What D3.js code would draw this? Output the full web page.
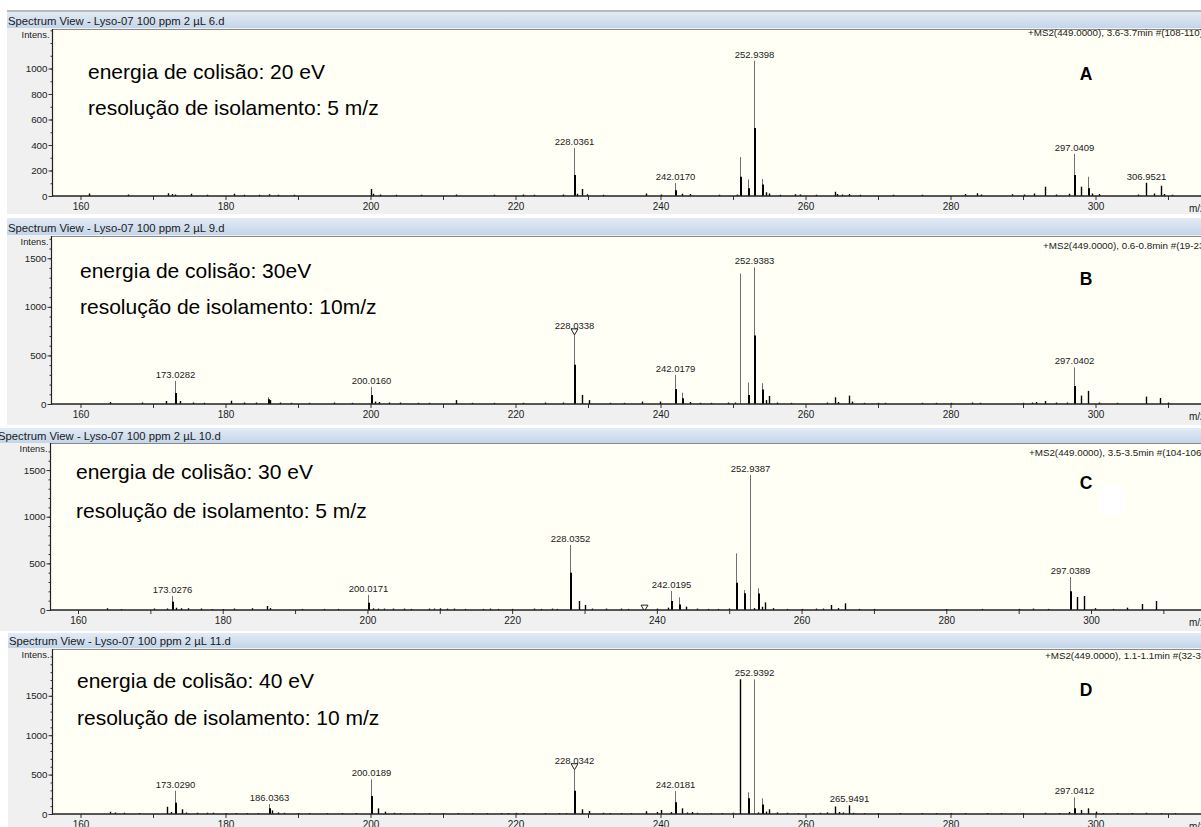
<!DOCTYPE html>
<html><head><meta charset="utf-8">
<script src="https://cdn.jsdelivr.net/npm/d3@7"></script>
<style>
html,body{margin:0;padding:0;background:#fff;overflow:hidden;}
svg{display:block;}
</style></head><body>
<svg id="chart" width="1201" height="827"></svg>
<script>
// ---- spectrum data ----
const mzMinorTicks = [150,160,170,180,190,200,210,220,230,240,250,260,270,280,290,300,310,320];
const mzLabelTicks = [160,180,200,220,240,260,280,300];

const fileNames = ["Lyso-07 100 ppm 2 µL 6.d","Lyso-07 100 ppm 2 µL 9.d","Lyso-07 100 ppm 2 µL 10.d","Lyso-07 100 ppm 2 µL 11.d"];
const scanInfo = ["+MS2(449.0000), 3.6-3.7min #(108-110)","+MS2(449.0000), 0.6-0.8min #(19-23)","+MS2(449.0000), 3.5-3.5min #(104-106)","+MS2(449.0000), 1.1-1.1min #(32-34)"];
const energyText = ["energia de colisão: 20 eV","energia de colisão: 30eV","energia de colisão: 30 eV","energia de colisão: 40 eV"];
const isolationText = ["resolução de isolamento: 5 m/z","resolução de isolamento: 10m/z","resolução de isolamento: 5 m/z","resolução de isolamento: 10 m/z"];
const panelLetters = ["A","B","C","D"];

const intensityTicksA = [0,200,400,600,800,1000];
const intensityTicksB = [0,500,1000,1500];
const intensityTicksC = [0,500,1000,1500];
const intensityTicksD = [0,500,1000,1500];
const intensityMax = [1310,1729,1790,2094];

// [m/z, intensity, profile apex (optional)]
const peaksA = [[161.2,20],[166.5,12],[172.0,22],[172.6,15],[173.1,12],[175.3,18],[177.5,10],[181.2,18],[182.5,10],[184.6,10],[186.0,14],[187.3,10],[189.5,10],[200.02,55],[200.4,18],[201.3,12],[203.5,10],[207,10],[211.8,12],[217,10],[221.0,12],[222.5,10],[226.5,12],[228.0361,376,165],[228.5,18],[229.2,55],[229.8,14],[232,10],[238.0,20],[240.0,12],[242.0170,102,45],[243.0,18],[244.0,16],[248,10],[250.5,12],[251.0,306,151],[252.0,130,60],[252.9398,1061,533],[254.0,133,90],[254.5,30],[255.0,20],[256.5,10],[258.5,14],[259.2,12],[261.5,10],[264.0,34],[264.4,15],[265.0,12],[266.0,16],[267.5,10],[272,10],[276,10],[282.0,15],[283.6,22],[284.2,12],[288.5,14],[290.2,12],[291.5,20],[293.0,73],[294.5,12],[296.3,18],[297.0409,329,165],[298.0,73],[299.0,151,60],[299.5,20],[300.5,15],[305.8,12],[306.9521,104],[308.0,20],[309.0,81],[309.5,15],[310.5,10]];
const peaksB = [[164,20],[168.5,15],[171.8,30],[173.0282,238,114],[173.7,30],[175.5,15],[177,12],[180.7,34],[182.5,15],[184.2,15],[185.8,69,50],[186.2,40],[187.5,15],[189,12],[191.5,12],[195,15],[197.5,12],[200.0160,176,93],[200.6,25],[201.2,20],[202.5,15],[204,15],[206.5,12],[208,12],[211.8,40],[214,12],[217,12],[221,12],[224,15],[226.5,15],[228.0338,742,403],[229.2,93],[230.1,40],[233,12],[235,12],[237.5,25],[239.9,25],[242.0179,300,155],[243.0,117,60],[244.0,20],[245.5,12],[247,12],[249.3,15],[250.3,15],[251.0,1342,0],[252.0,221,93],[252.9383,1405,704],[254.0,214,150],[254.5,40],[255.0,83],[256.0,15],[258,12],[263,15],[264.0,69],[264.5,20],[266.0,86],[266.4,25],[268,12],[270,12],[271,12],[276,12],[278,12],[280,12],[283,15],[284,12],[290,12],[291.2,15],[291.8,20],[293.0,30],[294.5,15],[296,15],[297.0402,376,186],[298.0,86],[299.0,135],[300.5,15],[303,12],[306.9,76],[308.9,62],[310,15]];
const peaksC = [[164,20],[166,12],[170.5,15],[172.3,15],[173.0276,150,89],[173.6,25],[174.3,20],[175.2,20],[177,15],[178.5,12],[180,12],[181.5,15],[184,20],[186.1,43],[186.5,20],[191,12],[194,12],[196,12],[200.0171,161,78],[200.8,18],[201.5,15],[202.3,15],[203.5,15],[205,15],[206,12],[208.5,15],[209.2,15],[210,18],[211,15],[212,15],[213.5,12],[216,12],[217,15],[218,12],[220,12],[223,15],[224,12],[225.5,15],[226.2,12],[228.0352,697,400],[229.2,96],[230.1,54],[231,15],[233,15],[235,15],[236,12],[238.2,20],[240.0,15],[241.5,25],[242.0195,204,96],[243.0,136,60],[244.0,36],[245.5,15],[247,12],[248.5,12],[250,15],[251.0,607,293],[252.0,214,180],[252.9387,1447,0],[253.4,20],[254.0,232,178],[254.6,35],[255.0,82],[256.0,20],[258,12],[260,12],[262,15],[263,15],[264.0,54],[265,20],[266.0,72],[268,12],[270,12],[280,10],[285,12],[290,12],[292,15],[294,12],[297.0389,354,200],[298.0,139],[299.0,150],[300.5,20],[303,12],[305,25],[307.0,64],[309.0,96]];
const peaksD = [[164.1,30],[164.7,20],[166,15],[168,12],[171.9,93],[172.5,25],[173.0290,296,144],[174.0,59],[174.6,20],[176,15],[177.5,15],[178.3,15],[180,12],[181.5,12],[183,12],[184.5,12],[186.0363,127,72],[186.4,45],[187.2,20],[188,15],[190,12],[191.5,12],[194,12],[196,12],[198,12],[200.0189,440,228],[201.0,72],[202.0,30],[203.2,15],[204,12],[206,12],[208,12],[210,12],[212,12],[214,12],[216,12],[218,12],[219,12],[220,15],[221,12],[224,12],[226,12],[227,12],[228.0342,600,296],[229.2,59],[230.2,38],[232,15],[233,12],[234.5,12],[236,12],[238.0,35],[239.5,25],[240.0,51],[241.4,25],[242.0181,292,148],[243.0,72],[243.6,20],[244.3,25],[245,15],[247,12],[248.5,12],[250,15],[251.0,1709],[252.0,275,200],[252.9392,1709,0],[253.5,20],[254.0,199,120],[254.6,30],[255.0,59],[256,20],[257.5,15],[259,12],[261,12],[262,15],[263,20],[264.0,95],[264.6,25],[265.2,20],[265.9491,110],[266.5,15],[268,12],[270,12],[273,12],[276,12],[278,12],[280,12],[282,12],[285,12],[287,12],[290,12],[293.0,15],[295,12],[296.3,25],[297.0412,211,72],[298.0,51],[299.0,72],[300.0,30],[301,12],[303,12],[305,12],[307,15],[309,12],[311,12]];

// labelled peak m/z values (label text is the m/z itself)
const labelsA = [228.0361,242.0170,252.9398,297.0409,306.9521];
const labelsB = [173.0282,200.0160,228.0338,242.0179,252.9383,297.0402];
const labelsC = [173.0276,200.0171,228.0352,242.0195,252.9387,297.0389];
const labelsD = [173.0290,186.0363,200.0189,228.0342,242.0181,252.9392,265.9491,297.0412];

// triangle markers (m/z of the marked peak)
const markersA = [];
const markersB = [228.0338];
const markersC = [238.2];
const markersD = [228.0342];

// ---- panel geometry ----
const W = 1201;
const layouts = [
  {left:7,  barTop:12,  barH:16, plotTop:29,  base:196, bottom:214, plotLeft:52.5, x160:80.5, x300:1095.5, textX:88, line1:79,  line2:115, letterY:80,  infoX:1028, infoY:36},
  {left:7,  barTop:218, barH:17, plotTop:236, base:404, bottom:425, plotLeft:51.5, x160:80.5, x300:1095.5, textX:80, line1:278, line2:314, letterY:285, infoX:1043, infoY:249},
  {left:-3, barTop:428, barH:15, plotTop:443, base:610, bottom:631, plotLeft:50.5, x160:78,   x300:1091,   textX:76, line1:479, line2:518, letterY:489, infoX:1029, infoY:456},
  {left:8,  barTop:633, barH:15, plotTop:649, base:814, bottom:850, plotLeft:52.5, x160:80.5, x300:1095.5, textX:77, line1:688, line2:725, letterY:696, infoX:1045, infoY:659}
];

const panels = [
  {peaks:peaksA, labels:labelsA, markers:markersA, yTicks:intensityTicksA},
  {peaks:peaksB, labels:labelsB, markers:markersB, yTicks:intensityTicksB},
  {peaks:peaksC, labels:labelsC, markers:markersC, yTicks:intensityTicksC},
  {peaks:peaksD, labels:labelsD, markers:markersD, yTicks:intensityTicksD}
];

const svg = d3.select("#chart");
const defs = svg.append("defs");
const grad = defs.append("linearGradient").attr("id","barGrad").attr("x1",0).attr("x2",0).attr("y1",0).attr("y2",1);
grad.append("stop").attr("offset","0%").attr("stop-color","#e3ebf5");
grad.append("stop").attr("offset","100%").attr("stop-color","#c4d5e9");

const SMALL = "'Liberation Sans', Arial, sans-serif";
const fmt = d3.format(".4f");

panels.forEach((p, i) => {
  const L = layouts[i];
  const g = svg.append("g");

  const x = d3.scaleLinear().domain([160, 300]).range([L.x160, L.x300]);
  const y = d3.scaleLinear().domain([0, intensityMax[i]]).range([L.base, L.plotTop]);

  // window frame: gray body and title bar
  g.append("rect").attr("x", L.left).attr("y", L.barTop).attr("width", W - L.left).attr("height", L.bottom - L.barTop).attr("fill", "#f0f0f0");
  if (i === 0) g.append("rect").attr("x", L.left).attr("y", L.barTop - 2).attr("width", W - L.left).attr("height", 2).attr("fill", "#b9b9b9");
  g.append("rect").attr("x", L.left).attr("y", L.barTop).attr("width", W - L.left).attr("height", L.barH).attr("fill", "url(#barGrad)");
  g.append("text").attr("x", L.left + 1).attr("y", L.barTop + L.barH - 3.5)
    .attr("font-family", SMALL).attr("font-size", 11.3).attr("fill", "#1a1a1a")
    .text("Spectrum View - " + fileNames[i]);

  // plot area
  g.append("rect").attr("x", L.plotLeft).attr("y", L.plotTop).attr("width", W - L.plotLeft).attr("height", L.base - L.plotTop).attr("fill", "#fffff5");
  g.append("line").attr("x1", L.plotLeft).attr("x2", W).attr("y1", L.plotTop + 0.5).attr("y2", L.plotTop + 0.5).attr("stroke", "#8a8a8a").attr("stroke-width", 1);

  const clipId = "clip" + i;
  defs.append("clipPath").attr("id", clipId).append("rect")
    .attr("x", L.plotLeft).attr("y", L.plotTop).attr("width", W - L.plotLeft).attr("height", L.base - L.plotTop);
  const plot = g.append("g").attr("clip-path", "url(#" + clipId + ")");

  if (i === 2) plot.append("rect").attr("x", 1100).attr("y", 486).attr("width", 24).attr("height", 28).attr("fill", "#ffffff");

  // centroid sticks (thin gray) for peaks that carry a profile apex
  plot.selectAll("line.cent").data(p.peaks.filter(d => d.length > 2)).join("line")
    .attr("class", "cent")
    .attr("x1", d => Math.round(x(d[0])) + 0.5).attr("x2", d => Math.round(x(d[0])) + 0.5)
    .attr("y1", L.base).attr("y2", d => y(d[1]))
    .attr("stroke", "#707070").attr("stroke-width", 1);
  // profile bodies (black)
  plot.selectAll("line.prof").data(p.peaks.filter(d => d.length > 2 && d[2] > 0)).join("line")
    .attr("class", "prof")
    .attr("x1", d => Math.round(x(d[0])) + 1).attr("x2", d => Math.round(x(d[0])) + 1)
    .attr("y1", L.base).attr("y2", d => y(d[2]))
    .attr("stroke", "#000").attr("stroke-width", 2);
  // plain sticks
  plot.selectAll("line.stick").data(p.peaks.filter(d => d.length === 2)).join("line")
    .attr("class", "stick")
    .attr("x1", d => Math.round(x(d[0])) + 0.5).attr("x2", d => Math.round(x(d[0])) + 0.5)
    .attr("y1", L.base).attr("y2", d => y(d[1]))
    .attr("stroke", "#000").attr("stroke-width", 1.4);

  // peak labels
  const peakTop = mz => { const pk = p.peaks.find(d => Math.abs(d[0] - mz) < 1e-6); return pk ? pk[1] : 0; };
  plot.selectAll("text.lab").data(p.labels).join("text")
    .attr("class", "lab")
    .attr("x", d => Math.round(x(d)) + 0.5).attr("y", d => y(peakTop(d)) - 3)
    .attr("text-anchor", "middle").attr("font-family", SMALL).attr("font-size", 9.5).attr("fill", "#222")
    .text(d => fmt(d));

  // triangle markers
  plot.selectAll("path.mark").data(p.markers).join("path")
    .attr("class", "mark")
    .attr("d", d => {
      const cx = Math.round(x(d)) + 0.5, ty = y(peakTop(d)) - 3;
      return `M${cx - 3.5},${ty}L${cx + 3.5},${ty}L${cx},${ty + 6}Z`;
    })
    .attr("fill", "#fffff5").attr("stroke", "#222").attr("stroke-width", 1);

  // axes
  const xAxis = d3.axisBottom(x).tickValues(mzMinorTicks).tickSize(4).tickPadding(3)
    .tickFormat(d => mzLabelTicks.includes(d) ? d : "");
  const xg = g.append("g").attr("transform", `translate(0,${L.base})`).call(xAxis);
  xg.select(".domain").remove();
  xg.selectAll(".tick").filter(d => x(d) < L.plotLeft).remove();
  xg.selectAll(".tick line").attr("stroke", "#333");
  xg.selectAll(".tick text").attr("font-family", SMALL).attr("font-size", 10).attr("fill", "#222");

  const minorY = d3.range(0, intensityMax[i], 100);
  const yMinor = d3.axisLeft(y).tickValues(minorY).tickSize(2).tickFormat("");
  const ymg = g.append("g").attr("transform", `translate(${L.plotLeft},0)`).call(yMinor);
  ymg.select(".domain").remove();
  ymg.selectAll(".tick line").attr("stroke", "#333");
  const yAxis = d3.axisLeft(y).tickValues(p.yTicks).tickSize(4).tickPadding(1).tickFormat(d3.format("d"));
  const yg = g.append("g").attr("transform", `translate(${L.plotLeft},0)`).call(yAxis);
  yg.select(".domain").remove();
  yg.selectAll(".tick line").attr("stroke", "#333");
  yg.selectAll(".tick text").attr("font-family", SMALL).attr("font-size", 9.8).attr("fill", "#222");

  g.append("line").attr("x1", L.plotLeft).attr("x2", L.plotLeft).attr("y1", L.plotTop).attr("y2", L.base + 0.75).attr("stroke", "#222").attr("stroke-width", 1.2);
  g.append("line").attr("x1", L.plotLeft).attr("x2", W).attr("y1", L.base).attr("y2", L.base).attr("stroke", "#222").attr("stroke-width", 1.5);

  g.append("text").attr("x", L.plotLeft - 3).attr("y", L.plotTop + 8.5).attr("text-anchor", "end")
    .attr("font-family", SMALL).attr("font-size", 9.3).attr("fill", "#222").text("Intens.");
  g.append("text").attr("x", 1189).attr("y", L.base + 16).attr("font-family", SMALL).attr("font-size", 10).attr("fill", "#222").text("m/z");

  // scan header and annotations
  g.append("text").attr("x", L.infoX).attr("y", L.infoY).attr("font-family", SMALL).attr("font-size", 9.8).attr("fill", "#222").text(scanInfo[i]);
  g.append("text").attr("x", L.textX).attr("y", L.line1).attr("font-family", "'Liberation Sans', Arial, sans-serif").attr("font-size", 21).attr("fill", "#000").text(energyText[i]);
  g.append("text").attr("x", L.textX).attr("y", L.line2).attr("font-family", "'Liberation Sans', Arial, sans-serif").attr("font-size", 21).attr("fill", "#000").text(isolationText[i]);
  g.append("text").attr("x", 1086).attr("y", L.letterY).attr("text-anchor", "middle").attr("font-family", "'Liberation Sans', Arial, sans-serif").attr("font-weight", "bold").attr("font-size", 17.5).attr("fill", "#000").text(panelLetters[i]);
});
</script></body></html>
